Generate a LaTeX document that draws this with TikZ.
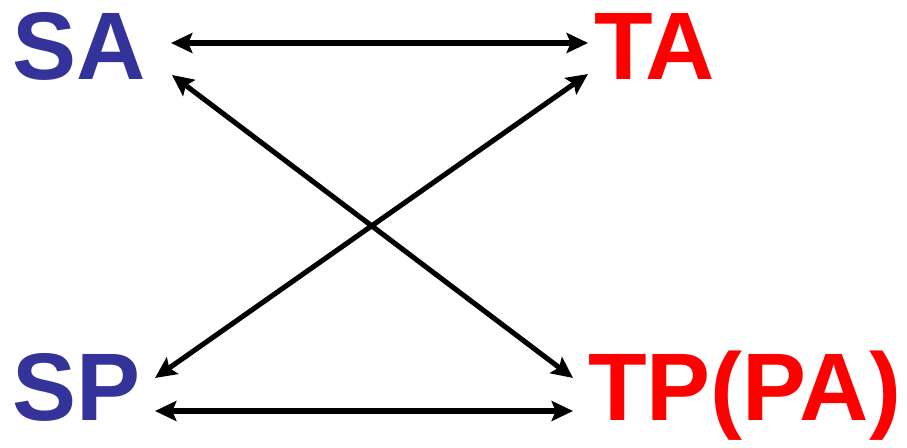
\documentclass[tikz,border=0pt]{standalone}
\usepackage{fontspec}
\setmainfont{Liberation Sans}
\usetikzlibrary{arrows.meta}
\definecolor{sblue}{RGB}{51,51,153}
\definecolor{tred}{RGB}{255,0,0}
\begin{document}
\begin{tikzpicture}[x=0.75pt,y=-0.75pt,
  lbl/.style={inner sep=0pt,anchor=base west,font=\fontsize{72}{72}\selectfont\bfseries},
  conn/.style={line width=3.8pt,{Stealth[length=16pt,width=15pt,inset=3pt]}-{Stealth[length=16pt,width=15pt,inset=3pt]}}]
\useasboundingbox (0,0) rectangle (907,448);
\node[lbl,text=sblue] (SA) at (12,80) {SA};
\node[lbl,text=tred] (TA) at (594,80) {TA};
\node[lbl,text=sblue] (SP) at (12,421) {SP};
\node[lbl,text=tred] (TP) at (588,421) {TP(PA)};
\coordinate (saR) at (171,43);
\coordinate (taL) at (588,43);
\coordinate (saD) at (172,75);
\coordinate (taD) at (588,74);
\coordinate (spU) at (155,378);
\coordinate (tpU) at (573,378);
\coordinate (spR) at (155,411);
\coordinate (tpL) at (573,411);
\draw[conn] (saR) -- (taL);
\draw[conn] (spR) -- (tpL);
\draw[conn] (saD) -- (tpU);
\draw[conn] (spU) -- (taD);
\end{tikzpicture}
\end{document}
